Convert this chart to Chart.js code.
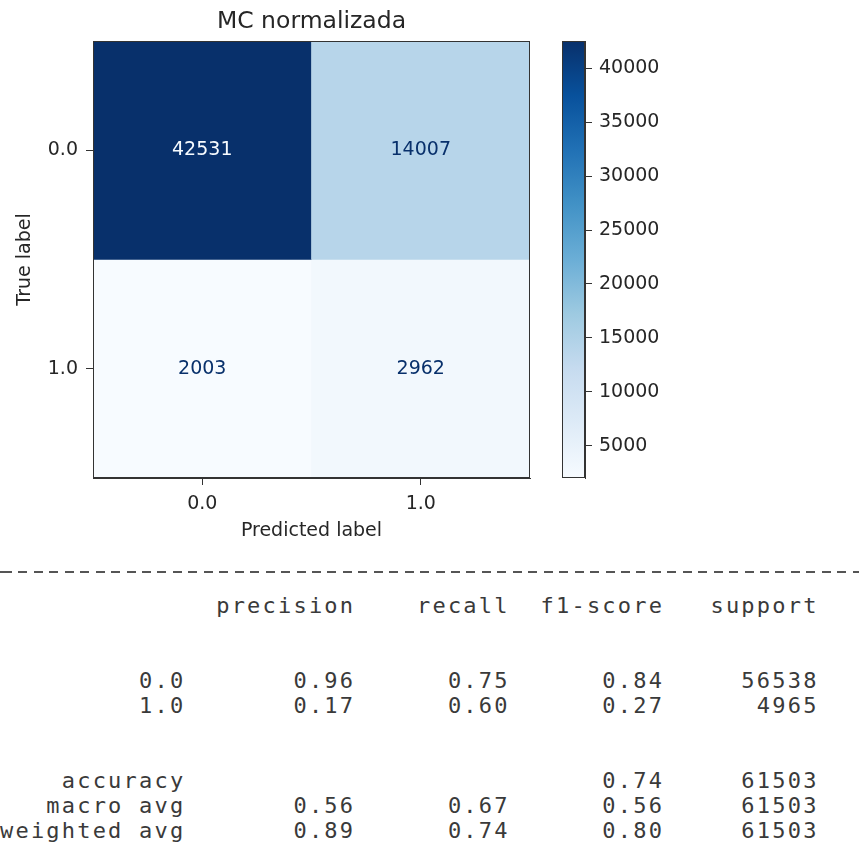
<!DOCTYPE html>
<html>
<head>
<meta charset="utf-8">
<script src="https://cdn.jsdelivr.net/npm/chart.js@4.4.1/dist/chart.umd.min.js"></script>
<style>
  html, body { margin: 0; padding: 0; background: #fff; }
  body { width: 859px; height: 865px; position: relative; overflow: hidden; }
  #cm { position: absolute; left: 0; top: 0; }
  #cb { position: absolute; left: 540px; top: 0; }
  #sep {
    position: absolute; left: 0; top: 571px; width: 859px; height: 2px;
    background: repeating-linear-gradient(to right, #555 0 9px, transparent 9px 15.45px);
    background-position: 3px 0;
  }
  #report {
    position: absolute; left: 0px; top: 592.5px;
    font-family: 'DejaVu Sans Mono', monospace; font-size: 22px;
    letter-spacing: 2.2px; color: #3a3a3a; white-space: pre;
  }
  #report div { height: 25px; line-height: 25px; }
  #report div.gap { height: 50px; }
</style>
</head>
<body>
<canvas id="cm" width="560" height="560"></canvas>
<canvas id="cb" width="140" height="560"></canvas>
<div id="sep"></div>
<div id="report"></div>
<script>
// Confusion matrix: rows = true label, columns = predicted label
const classLabels = ['0.0', '1.0'];
const matrixRow0 = [42531, 14007];
const matrixRow1 = [2003, 2962];
const matrix = [matrixRow0, matrixRow1];
const colorbarTicks = [5000, 10000, 15000, 20000, 25000, 30000, 35000, 40000];

// Classification report
const reportHeaders = ['precision', 'recall', 'f1-score', 'support'];
const precision = [0.96, 0.17];
const recall = [0.75, 0.60];
const f1Score = [0.84, 0.27];
const support = [56538, 4965];
const accuracy = 0.74;
const totalSupport = 61503;
const macroAvg = [0.56, 0.67, 0.56];
const weightedAvg = [0.89, 0.74, 0.80];

// matplotlib "Blues" colormap stops
const BLUES = ['#f7fbff', '#deebf7', '#c6dbef', '#9ecae1', '#6baed6',
               '#4292c6', '#2171b5', '#08519c', '#08306b'];
function hexRgb(h) { return [1, 3, 5].map(i => parseInt(h.slice(i, i + 2), 16)); }
function blues(t) {
  t = Math.max(0, Math.min(1, t));
  const p = t * (BLUES.length - 1);
  const i = Math.min(Math.floor(p), BLUES.length - 2);
  const f = p - i;
  const a = hexRgb(BLUES[i]), b = hexRgb(BLUES[i + 1]);
  const c = a.map((v, k) => Math.round(v + (b[k] - v) * f));
  return `rgb(${c[0]},${c[1]},${c[2]})`;
}

const allValues = matrix.flat();
const vmin = Math.min(...allValues);
const vmax = Math.max(...allValues);
const TEXT = '#262626';
const EDGE = '#333';

Chart.defaults.font.family = "'DejaVu Sans', sans-serif";
Chart.defaults.color = TEXT;

// Frame around the plotting area
const frame = {
  id: 'frame',
  afterDatasetsDraw(chart) {
    const { ctx, chartArea: a } = chart;
    ctx.save();
    ctx.strokeStyle = EDGE;
    ctx.lineWidth = 1;
    ctx.strokeRect(Math.round(a.left) + 0.5, Math.round(a.top) + 0.5,
                   Math.round(a.right - a.left) - 1, Math.round(a.bottom - a.top) - 1);
    ctx.restore();
  }
};

// Count written in the middle of each cell
const cellLabels = {
  id: 'cellLabels',
  afterDatasetsDraw(chart) {
    const ctx = chart.ctx;
    ctx.save();
    ctx.font = "19px 'DejaVu Sans'";
    ctx.textAlign = 'center';
    ctx.textBaseline = 'middle';
    chart.data.datasets.forEach((ds, i) => {
      chart.getDatasetMeta(i).data.forEach((bar, j) => {
        const { x, y, base } = bar.getProps(['x', 'y', 'base'], true);
        const v = ds.data[j].count;
        ctx.fillStyle = v > (vmin + vmax) / 2 ? BLUES[0] : BLUES[BLUES.length - 1];
        ctx.fillText(String(v), x, (y + base) / 2);
      });
    });
    ctx.restore();
  }
};

const cellDatasets = matrix.map((row, i) => ({
  label: 'True ' + classLabels[i],
  data: row.map((v, j) => ({ x: classLabels[j], y: [i, i + 1], count: v })),
  backgroundColor: row.map(v => blues((v - vmin) / (vmax - vmin))),
  borderWidth: 0,
  borderSkipped: false,
  barPercentage: 1,
  categoryPercentage: 1,
  grouped: false
}));

new Chart(document.getElementById('cm'), {
  type: 'bar',
  data: { labels: classLabels, datasets: cellDatasets },
  options: {
    responsive: false,
    animation: false,
    layout: { padding: { left: 0, right: 30, top: 0, bottom: 0 } },
    plugins: {
      legend: { display: false },
      tooltip: { enabled: false },
      title: {
        display: true,
        text: 'MC normalizada',
        fullSize: false,
        color: TEXT,
        font: { size: 23.5, weight: 'normal' },
        padding: { top: 8, bottom: 4.8 }
      }
    },
    scales: {
      x: {
        type: 'category',
        offset: true,
        grid: { drawOnChartArea: false, drawTicks: true, tickLength: 7, tickColor: EDGE, offset: false },
        border: { display: true, color: EDGE },
        ticks: { color: TEXT, font: { size: 19 }, padding: 8, maxRotation: 0 },
        title: { display: true, text: 'Predicted label', color: TEXT, font: { size: 19 },
                 padding: { top: 0, bottom: 18 } },
        afterFit: s => { s.height = 82; }
      },
      y: {
        type: 'linear',
        min: 0,
        max: classLabels.length,
        reverse: true,
        afterBuildTicks: s => { s.ticks = classLabels.map((_, i) => ({ value: i + 0.5 })); },
        grid: { drawOnChartArea: false, drawTicks: true, tickLength: 7, tickColor: EDGE },
        border: { display: true, color: EDGE },
        ticks: { color: TEXT, font: { size: 19 }, padding: 8,
                 callback: v => classLabels[Math.floor(v)] },
        title: { display: true, text: 'True label', color: TEXT, font: { size: 19 },
                 padding: { top: 13.6, bottom: 0 } },
        afterFit: s => { s.width = 93; }
      }
    }
  },
  plugins: [cellLabels, frame]
});

// Colour bar
new Chart(document.getElementById('cb'), {
  type: 'bar',
  data: {
    labels: [''],
    datasets: [{
      data: [[vmin, vmax]],
      backgroundColor: (c) => {
        const { chart } = c;
        if (!chart.chartArea) return BLUES[4];
        const y = chart.scales.y;
        const g = chart.ctx.createLinearGradient(0, y.getPixelForValue(vmin), 0, y.getPixelForValue(vmax));
        BLUES.forEach((col, k) => g.addColorStop(k / (BLUES.length - 1), col));
        return g;
      },
      borderWidth: 0,
      borderSkipped: false,
      barPercentage: 1,
      categoryPercentage: 1
    }]
  },
  options: {
    responsive: false,
    animation: false,
    layout: { padding: { left: 22, right: 0, top: 41, bottom: 82 } },
    plugins: { legend: { display: false }, tooltip: { enabled: false } },
    scales: {
      x: { display: false },
      y: {
        position: 'right',
        min: vmin,
        max: vmax,
        afterBuildTicks: s => { s.ticks = colorbarTicks.map(v => ({ value: v })); },
        grid: { drawOnChartArea: false, drawTicks: true, tickLength: 7, tickColor: EDGE },
        border: { display: true, color: EDGE },
        ticks: { color: TEXT, font: { size: 19 }, padding: 7, callback: v => String(v) },
        afterFit: s => { s.width = 95; }
      }
    }
  },
  plugins: [frame]
});

// Text classification report
const W = 12;
const pad = (s, n) => String(s).padStart(n);
const f2 = v => v.toFixed(2);
const reportLines = [];
reportLines.push(pad('', W) + ' ' + reportHeaders.map(h => ' ' + pad(h, 9)).join(''));
reportLines.push(null);
classLabels.forEach((lab, i) => {
  reportLines.push(pad(lab, W) + ' ' + [precision[i], recall[i], f1Score[i]].map(v => ' ' + pad(f2(v), 9)).join('')
                   + ' ' + pad(support[i], 9));
});
reportLines.push(null);
reportLines.push(pad('accuracy', W) + ' ' + ' ' + pad('', 9) + ' ' + pad('', 9) + ' ' + pad(f2(accuracy), 9)
                 + ' ' + pad(totalSupport, 9));
[['macro avg', macroAvg], ['weighted avg', weightedAvg]].forEach(([name, vals]) => {
  reportLines.push(pad(name, W) + ' ' + vals.map(v => ' ' + pad(f2(v), 9)).join('') + ' ' + pad(totalSupport, 9));
});
const reportEl = document.getElementById('report');
reportLines.forEach(line => {
  const d = document.createElement('div');
  if (line === null) d.className = 'gap';
  else d.textContent = line;
  reportEl.appendChild(d);
});
</script>
</body>
</html>
